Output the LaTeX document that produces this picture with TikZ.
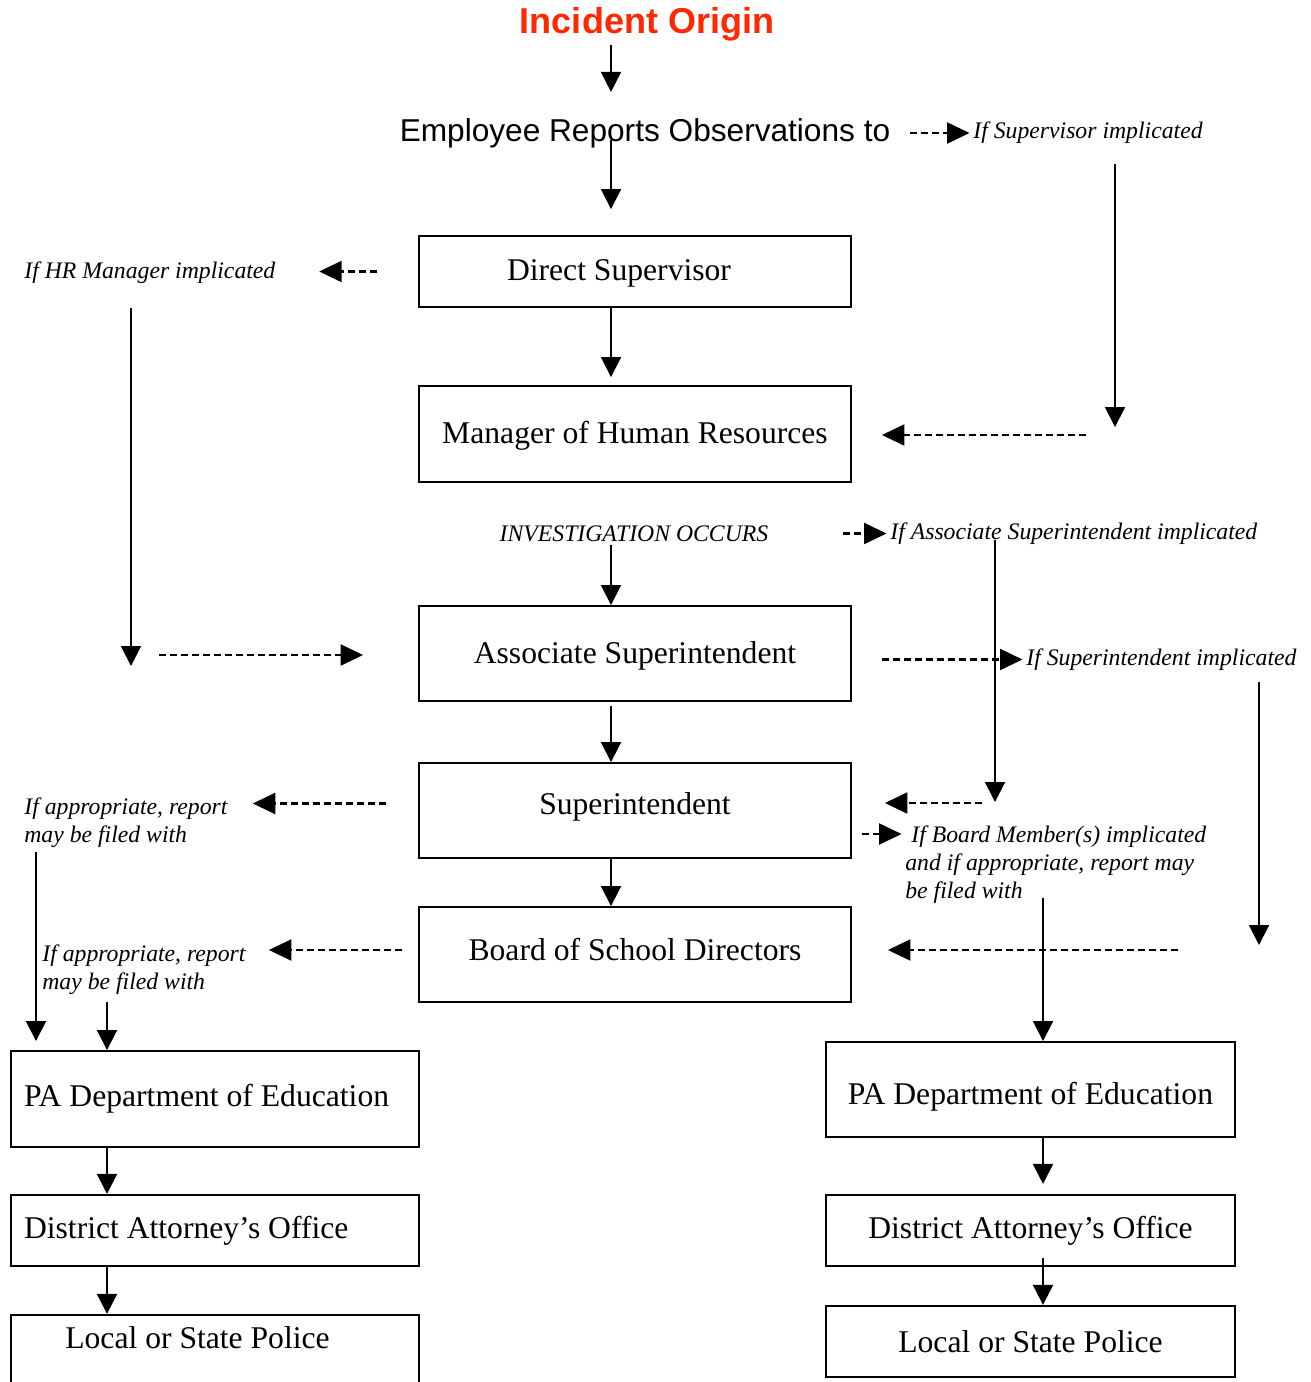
\documentclass[tikz,border=0pt]{standalone}
\usepackage{fontspec}
\setmainfont{Liberation Serif}
\newfontfamily\arialfont{Liberation Sans}
\usepackage{tikz}
\usetikzlibrary{arrows.meta, positioning, calc}
\definecolor{origred}{RGB}{255,40,0}

\begin{document}
\begin{tikzpicture}[
    x=0.02cm, y=-0.02cm,
    box/.style={rectangle, draw, line width=1.1pt, minimum width=8.64cm, align=center, font=\fontsize{18}{21}\selectfont},
    lbox/.style={rectangle, draw, line width=1.1pt, inner xsep=0.26cm, text width=7.64cm, align=flush left, font=\fontsize{18}{21}\selectfont},
    note/.style={font=\fontsize{13.5}{15.9}\selectfont\itshape, align=left, inner sep=2pt},
    arrow/.style={-{Triangle[length=0.4cm, width=0.4cm]}, line width=1.1pt},
    darrow/.style={-{Triangle[length=0.45cm, width=0.42cm]}, line width=1.3pt, dash pattern=on 0.14cm off 0.08cm},
]
    \path[use as bounding box] (0,0) rectangle (1311,1382);

    % Helper columns and free ends
    \coordinate (col) at (611,0);
    \coordinate (lcol) at (107,0);
    \coordinate (rcol) at (1043,0);
    \coordinate (supdrop) at (1115,427);
    \coordinate (hrfrom) at (1086,435);
    \coordinate (hrdrop) at (131,666);
    \coordinate (hrturn) at (159,655);
    \coordinate (assocdrop) at (995,802);
    \coordinate (supfrom) at (982,803);
    \coordinate (suptdrop) at (1259,945);
    \coordinate (boardfrom) at (1178,950);
    \coordinate (apprAcol) at (36,1041);

    % Top
    \node[font=\arialfont\bfseries\fontsize{20.5}{24}\selectfont, text=origred, inner sep=2pt] (origin) at (647,24) {Incident Origin};
    \node[font=\arialfont\fontsize{18}{21}\selectfont, inner sep=2pt] (report) at (645,133) {Employee Reports Observations to};

    % Main column
    \node[box, minimum height=1.42cm, text height=0.5cm] (ds) at (635,271.5) {\hspace*{-0.64cm}Direct Supervisor};
    \node[box, minimum height=1.92cm, text height=0.5cm] (hr) at (635,434) {Manager of Human Resources};
    \node[box, minimum height=1.9cm, text height=0.52cm] (assoc) at (635,653.5) {Associate Superintendent};
    \node[box, minimum height=1.9cm, text depth=0.26cm] (supt) at (635,810.5) {Superintendent};
    \node[box, minimum height=1.9cm, text depth=0.22cm] (board) at (635,954.5) {Board of School Directors};

    % Left chain
    \node[lbox, minimum height=1.92cm] (padL) at (215,1099) {PA Department of Education};
    \node[lbox, minimum height=1.42cm, below=0.92cm of padL] (daL) {District Attorney’s Office};
    \begin{scope}
        \clip (0,0) rectangle (1311,1382);
        \node[lbox, minimum height=1.5cm, below=0.94cm of daL,
            label={[name=polLtext, anchor=center, xshift=-0.35cm, yshift=-0.48cm, font=\fontsize{18}{21}\selectfont]north:Local or State Police}] (polL) {};
    \end{scope}

    % Right chain
    \node[box, minimum width=8.18cm, minimum height=1.9cm, text height=0.75cm] (padR) at (1030.5,1089.5) {PA Department of Education};
    \node[box, minimum width=8.18cm, minimum height=1.42cm, below=1.12cm of padR] (daR) {District Attorney’s Office};
    \node[box, minimum width=8.18cm, minimum height=1.42cm, below=0.76cm of daR] (polR) {Local or State Police};

    % Side notes
    \node[note, anchor=west] (ifsup) at (969.5,133) {If Supervisor implicated};
    \node[note, anchor=west] (ifhr) at (20.5,273) {If HR Manager implicated};
    \node[note] (invest) at (634,533.5) {INVESTIGATION OCCURS};
    \node[note, anchor=west] (ifassoc) at (886.5,533.5) {If Associate Superintendent implicated};
    \node[note, anchor=west] (ifsupt) at (1022.5,659.5) {If Superintendent implicated};
    \node[note, anchor=west] (apprA) at (20.5,823) {If appropriate, report\\may be filed with};
    \node[note, anchor=west] (apprB) at (38.5,970) {If appropriate, report\\may be filed with};
    \node[note, anchor=west] (ifboard) at (901.5,865) {\hspace*{0.12cm}If Board Member(s) implicated\\and if appropriate, report may\\be filed with};

    % Solid arrows: main column
    \draw[arrow, shorten >=0.45cm] (origin.south -| col) -- (report.north -| col);
    \draw[arrow, shorten <=0.14cm, shorten >=0.52cm] (report.center -| col) -- (ds.north -| col);
    \draw[arrow, shorten >=0.16cm] (ds.south -| col) -- (hr.north -| col);
    \draw[arrow] (invest.south -| col) -- (assoc.north -| col);
    \draw[arrow, shorten <=0.08cm] (assoc.south -| col) -- (supt.north -| col);
    \draw[arrow] (supt.south -| col) -- (board.north -| col);

    % Solid arrows: drops
    \draw[arrow, shorten <=0.32cm] (ifsup.south -| supdrop) -- (supdrop);
    \draw[arrow, shorten <=0.4cm] (ifhr.south -| hrdrop) -- (hrdrop);
    \draw[arrow, shorten <=0.12cm] (ifassoc.center -| assocdrop) -- (assocdrop);
    \draw[arrow, shorten <=0.16cm] (ifsupt.south -| suptdrop) -- (suptdrop);
    \draw[arrow] (apprA.south -| apprAcol) -- (apprAcol);
    \draw[arrow, shorten <=0.07cm] (apprB.south -| lcol) -- (lcol |- padL.north);
    \draw[arrow] ($(ifboard.south -| rcol)+(0,-10)$) -- (rcol |- padR.north);

    % Solid arrows: lower chains
    \draw[arrow] (padL.south -| lcol) -- (daL.north -| lcol);
    \draw[arrow] (daL.south -| lcol) -- (polL.north -| lcol);
    \draw[arrow, shorten >=0.2cm] (padR.south -| rcol) -- (daR.north -| rcol);
    \draw[arrow, shorten <=-0.18cm] (daR.south -| rcol) -- (polR.north -| rcol);

    % Dashed arrows
    \draw[darrow, shorten <=0.32cm] (ifsup.west -| report.east) -- (ifsup.west);
    \draw[darrow, shorten >=0.6cm] (hrfrom) -- (hrfrom -| hr.east);
    \draw[darrow, shorten <=0.82cm, shorten >=0.8cm] (ds.west) -- (ds.west -| ifhr.east);
    \draw[darrow, shorten >=1.1cm] (hrturn) -- (hrturn -| assoc.west);
    \draw[darrow, shorten <=1.42cm] (invest.east) -- (ifassoc.west);
    \draw[darrow, shorten >=0.66cm] (supfrom) -- (supfrom -| supt.east);
    \draw[darrow, shorten <=0.6cm] (assoc.east |- ifsupt.west) -- (ifsupt.west);
    \draw[darrow, shorten >=0.72cm] (boardfrom) -- (boardfrom -| board.east);
    \draw[darrow, shorten <=0.64cm, shorten >=0.43cm] ($(supt.west)+(0,-7)$) -- ($(supt.west -| apprA.east)+(0,-7)$);
    \draw[darrow, shorten <=0.32cm, shorten >=0.39cm] ($(board.west)+(0,-4.5)$) -- ($(board.west -| apprB.east)+(0,-4.5)$);
    \draw[darrow, shorten <=0.2cm] ($(supt.east)+(0,23.5)$) -- ($(supt.east -| ifboard.west)+(0,23.5)$);

\end{tikzpicture}
\end{document}
